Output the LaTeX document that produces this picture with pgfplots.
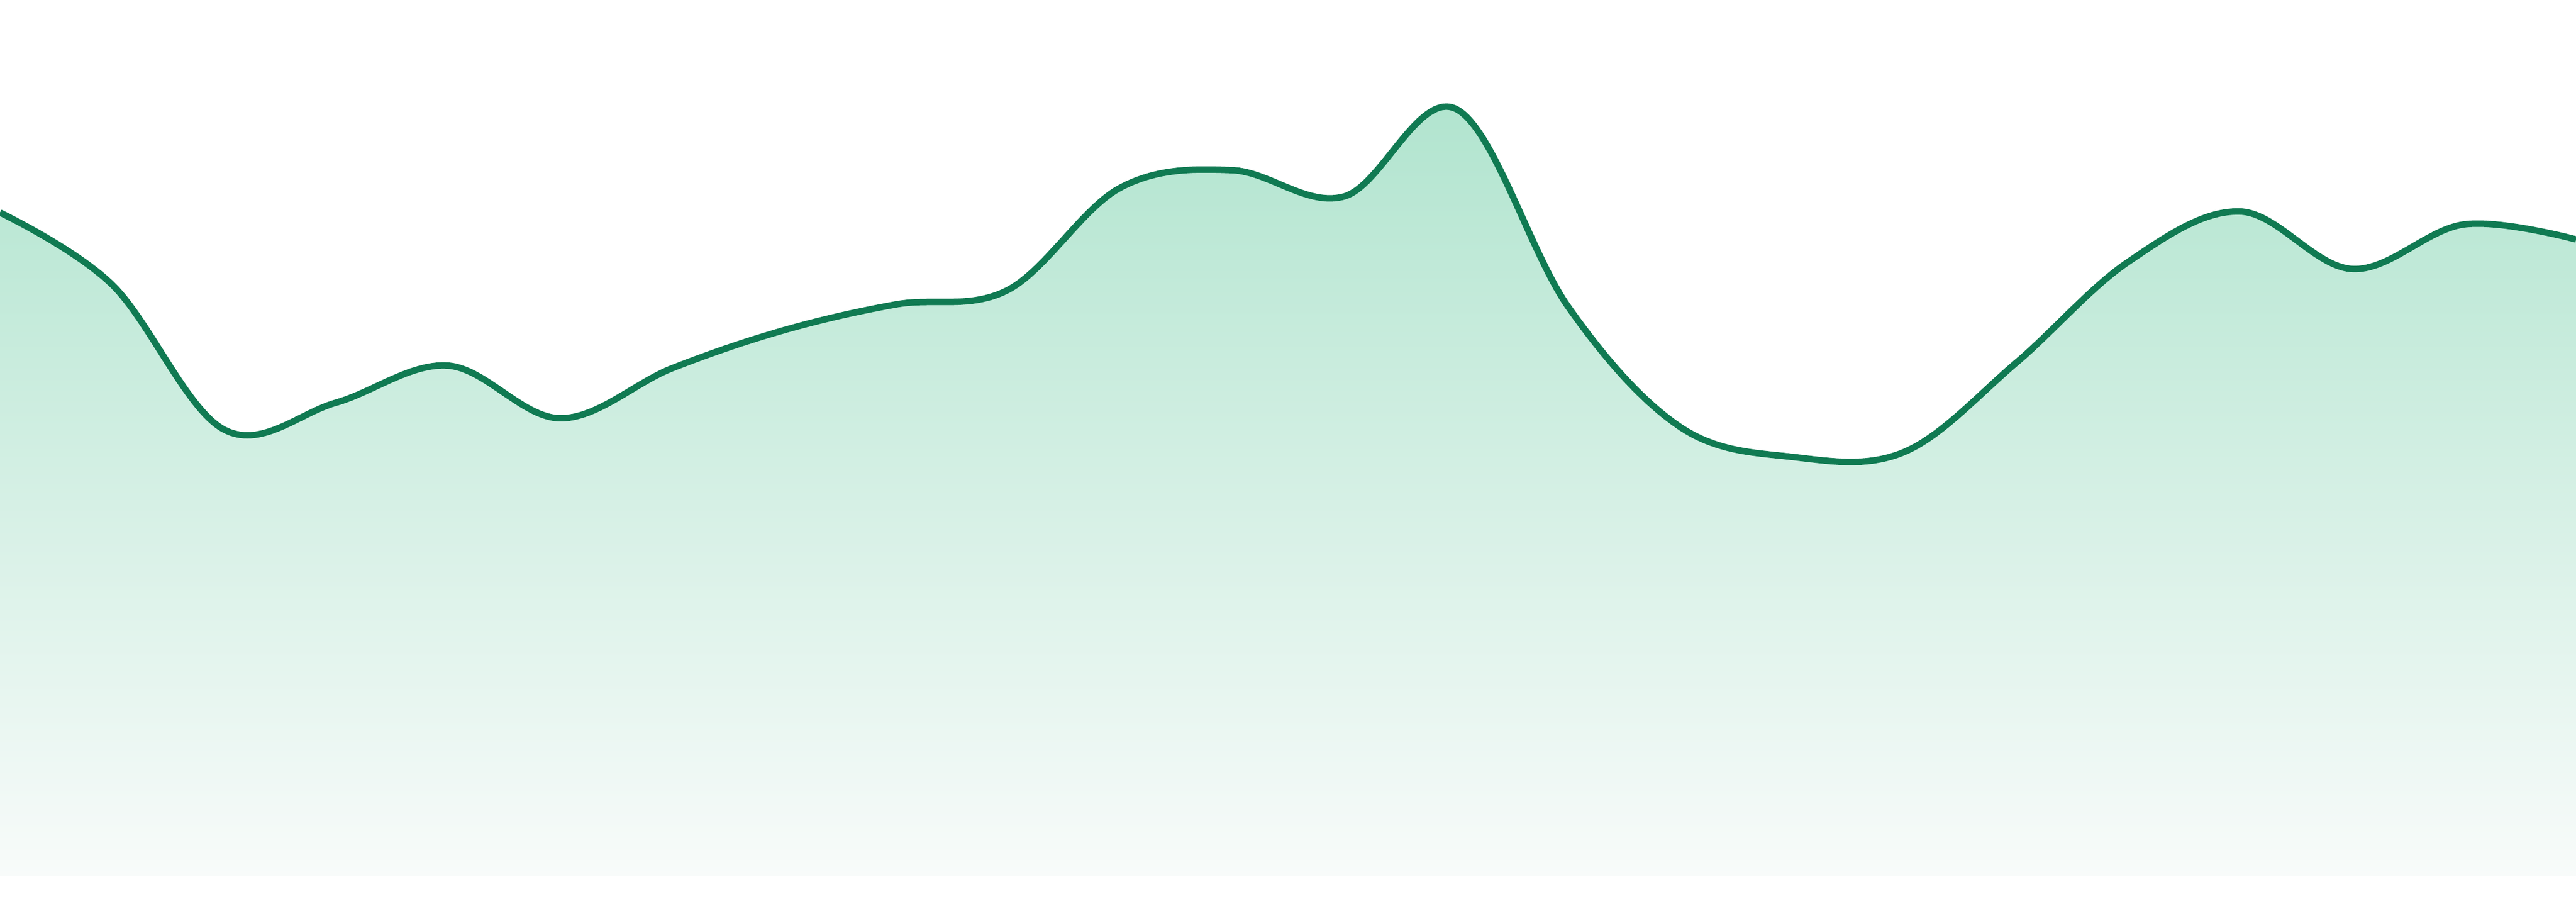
\documentclass[border=0pt]{standalone}
\usepackage{pgfplots}
\usepackage{pgfplotstable}
\pgfplotsset{compat=1.18}
\usepgfplotslibrary{fillbetween}

\definecolor{linegreen}{RGB}{16,122,82}
\definecolor{filltop}{RGB}{176,228,206}
\definecolor{fillbot}{RGB}{248,251,250}

% index, height of the curve (0 = bottom of the filled area)
\pgfplotstableread{
i v
0 1236
1 1102
2 832
3 882
4 951
5 853
6 946
7 1017
8 1065
9 1092
10 1282
11 1315
12 1266
13 1429
14 1061
15 837
16 781
17 790
18 956
19 1144
20 1238
21 1131
22 1214
23 1186
}\series

\begin{document}
\begin{tikzpicture}
\begin{axis}[
  scale only axis,
  width=480pt, height=168pt,
  xmin=0, xmax=23,
  ymin=-48, ymax=1632,
  axis line style={draw=none},
  xtick=\empty, ytick=\empty,
]
\addplot[draw=none, name path=curve, smooth, tension=0.6]
  table[x=i, y=v] {\series};
\addplot[draw=none, name path=base] coordinates {(0,0) (23,0)};
\addplot[top color=filltop, bottom color=fillbot, draw=none]
  fill between[of=curve and base];
\addplot[linegreen, line width=1.2pt, smooth, tension=0.6, line join=round]
  table[x=i, y=v] {\series};
\end{axis}
\end{tikzpicture}
\end{document}
